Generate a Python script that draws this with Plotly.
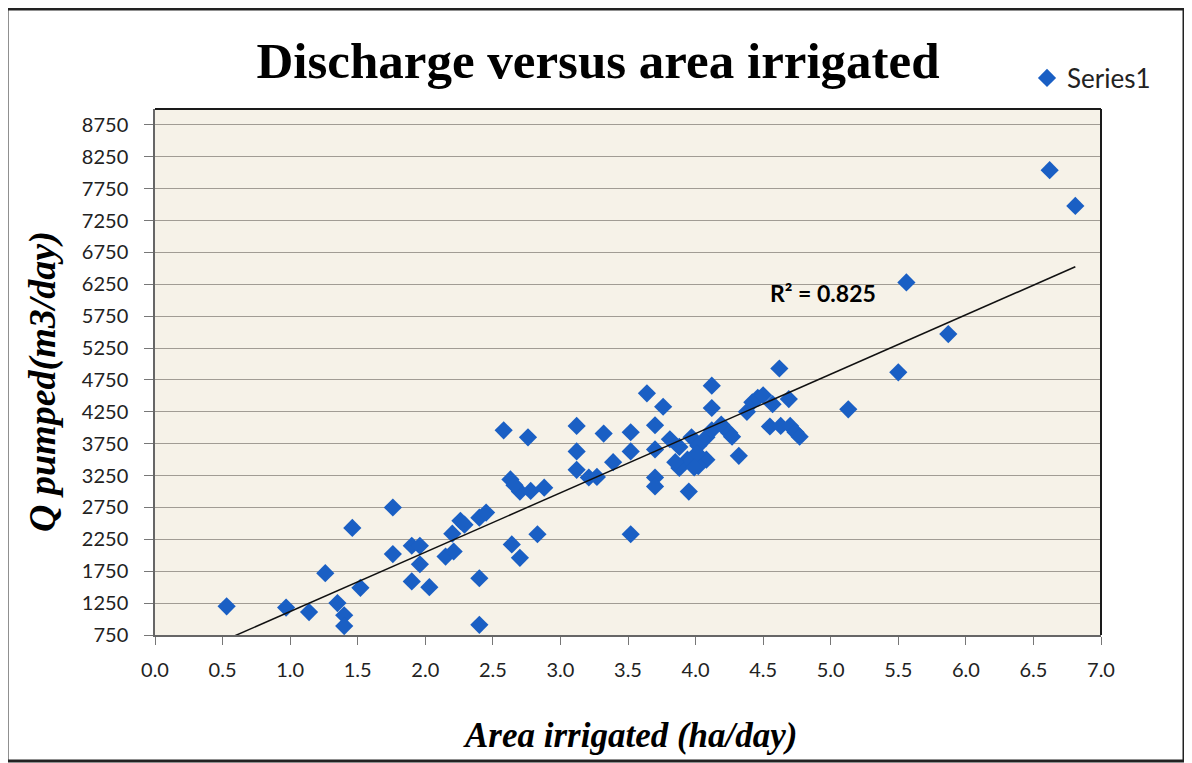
import numpy as np
import plotly.graph_objects as go

# Data
area = [0.53, 0.97, 1.14, 1.26, 1.35, 1.40, 1.40, 1.52, 1.46, 1.76, 1.76, 1.90, 1.96, 1.96, 1.90,
        2.03, 2.15, 2.21, 2.20, 2.26, 2.29, 2.40, 2.45, 2.40, 2.40, 2.64, 2.70, 2.83, 2.58, 2.76,
        2.63, 2.70, 2.78, 2.88, 2.66,
        3.12, 3.12, 3.12, 3.21, 3.27, 3.32, 3.39, 3.52, 3.52, 3.52, 3.64, 3.76, 3.70, 3.70, 3.70,
        3.70, 3.95, 3.81, 3.88, 3.97, 4.02, 3.94, 4.08, 3.88, 4.02, 4.08, 4.01, 3.85, 3.99, 4.12,
        4.12, 4.12, 4.19, 4.25, 4.27, 4.32, 4.38, 4.42, 4.46, 4.50, 4.57, 4.62, 4.69, 4.55, 4.63,
        4.70, 4.74, 4.77, 5.13, 5.50, 5.56, 5.87, 6.62, 6.81]
discharge = [1200, 1180, 1110, 1720, 1250, 1060, 890, 1490, 2430, 2750, 2020, 2150, 2150, 1860, 1590,
             1500, 1980, 2060, 2340, 2540, 2480, 2590, 2670, 1640, 910, 2170, 1960, 2330, 3960, 3850,
             3190, 3000, 3010, 3060, 3100,
             4030, 3630, 3340, 3220, 3230, 3910, 3460, 3930, 3630, 2330, 4540, 4330, 4040, 3660, 3220,
             3080, 3000, 3820, 3700, 3850, 3720, 3500, 3500, 3370, 3400, 3850, 3600, 3460, 3380, 3960,
             4660, 4310, 4050, 3920, 3860, 3560, 4250, 4400, 4470, 4510, 4370, 4930, 4450, 4020, 4030,
             4030, 3930, 3860, 4290, 4870, 6280, 5470, 8040, 7480]

y_ticks = [750, 1250, 1750, 2250, 2750, 3250, 3750, 4250, 4750, 5250, 5750, 6250, 6750, 7250, 7750, 8250, 8750]
x_ticks = [0.0, 0.5, 1.0, 1.5, 2.0, 2.5, 3.0, 3.5, 4.0, 4.5, 5.0, 5.5, 6.0, 6.5, 7.0]
r2_label = "R² = 0.825"

# Linear trendline from the data
xa = np.array(area)
ya = np.array(discharge)
slope, intercept = np.polyfit(xa, ya, 1)
tx = np.array([xa.min(), xa.max()])
ty = slope * tx + intercept

# Layout geometry in screen pixels; the page body adds an 8px offset
OFF = 8
W, H = 1192 - OFF, 763 - OFF
L, R, T, B = 155, 1101, 109, 635
pw, ph = R - L, B - T

def px(x):
    return (x - L) / pw

def py(y):
    return (B - y) / ph

blue = "#1a5fc4"
serif = "Liberation Serif, Times New Roman, serif"
sans = "Lato, Calibri, sans-serif"
tick_font = dict(family=sans, size=20, color="#222222")

fig = go.Figure()
fig.add_trace(go.Scatter(
    x=area, y=discharge, mode="markers", name="Series1",
    marker=dict(symbol="diamond", size=14, color=blue, line=dict(width=0)),
))
fig.add_trace(go.Scatter(
    x=tx, y=ty, mode="lines", showlegend=False,
    line=dict(color="#111111", width=1.5), hoverinfo="skip",
))

fig.update_layout(
    width=W, height=H,
    margin=dict(l=L - OFF, r=(1192 - R), t=T - OFF, b=(763 - B)),
    paper_bgcolor="white",
    plot_bgcolor="#f6f2e8",
    title=dict(
        text="Discharge versus area irrigated",
        font=dict(family=serif, size=51, color="black", weight="bold"),
        xref="container", yref="container",
        x=(598 - OFF) / W, y=1 - (60 - OFF) / H, xanchor="center", yanchor="middle",
    ),
    legend=dict(
        x=px(1027), y=py(78), xanchor="left", yanchor="middle",
        bgcolor="rgba(0,0,0,0)",
        font=dict(family=sans, size=26, color="#222222"),
    ),
    showlegend=True,
)

fig.update_xaxes(
    range=[0, 7], tickvals=x_ticks, ticktext=[f"{v:.1f}" for v in x_ticks],
    ticks="outside", ticklen=8, tickcolor="#777777",
    showgrid=False, zeroline=False,
    showline=True, linecolor="#666666", linewidth=1.5, mirror=False,
    tickfont=tick_font, ticklabelstandoff=8,
)
fig.update_yaxes(
    range=[750, 9000], tickvals=y_ticks, ticktext=[str(v) for v in y_ticks],
    ticks="outside", ticklen=9, tickcolor="#777777",
    showgrid=True, gridcolor="#a19c94", gridwidth=1,
    zeroline=False,
    showline=True, linecolor="#666666", linewidth=1.5, mirror=False,
    tickfont=tick_font, ticklabelstandoff=12,
)

# Dark top and right borders of the plot area
fig.add_shape(type="line", xref="paper", yref="paper", x0=0, x1=1, y0=1, y1=1,
              line=dict(color="#1a1a1a", width=2))
fig.add_shape(type="line", xref="paper", yref="paper", x0=1, x1=1, y0=0, y1=1,
              line=dict(color="#1a1a1a", width=2))

# Axis titles and R² label as annotations
fig.add_annotation(
    text="Area irrigated (ha/day)", xref="paper", yref="paper",
    x=px(630), y=py(735), xanchor="center", yanchor="middle", showarrow=False,
    font=dict(family=serif, size=35, color="black", weight="bold", style="italic"),
)
fig.add_annotation(
    text="Q pumped(m3/day)", xref="paper", yref="paper",
    x=px(42), y=py(382), xanchor="center", yanchor="middle", showarrow=False, textangle=-90,
    font=dict(family=serif, size=38, color="black", weight="bold", style="italic"),
)
fig.add_annotation(
    text=r2_label, xref="paper", yref="paper",
    x=px(768), y=py(293), xanchor="left", yanchor="middle", showarrow=False,
    font=dict(family=sans, size=23, color="black", weight="bold"),
)

# Outer chart frame
fig.add_shape(
    type="rect", xref="paper", yref="paper",
    x0=px(7), x1=px(1184), y0=py(761), y1=py(9),
    line=dict(color="#222222", width=3), fillcolor="rgba(0,0,0,0)", layer="below",
)

fig.write_html("out.html")
